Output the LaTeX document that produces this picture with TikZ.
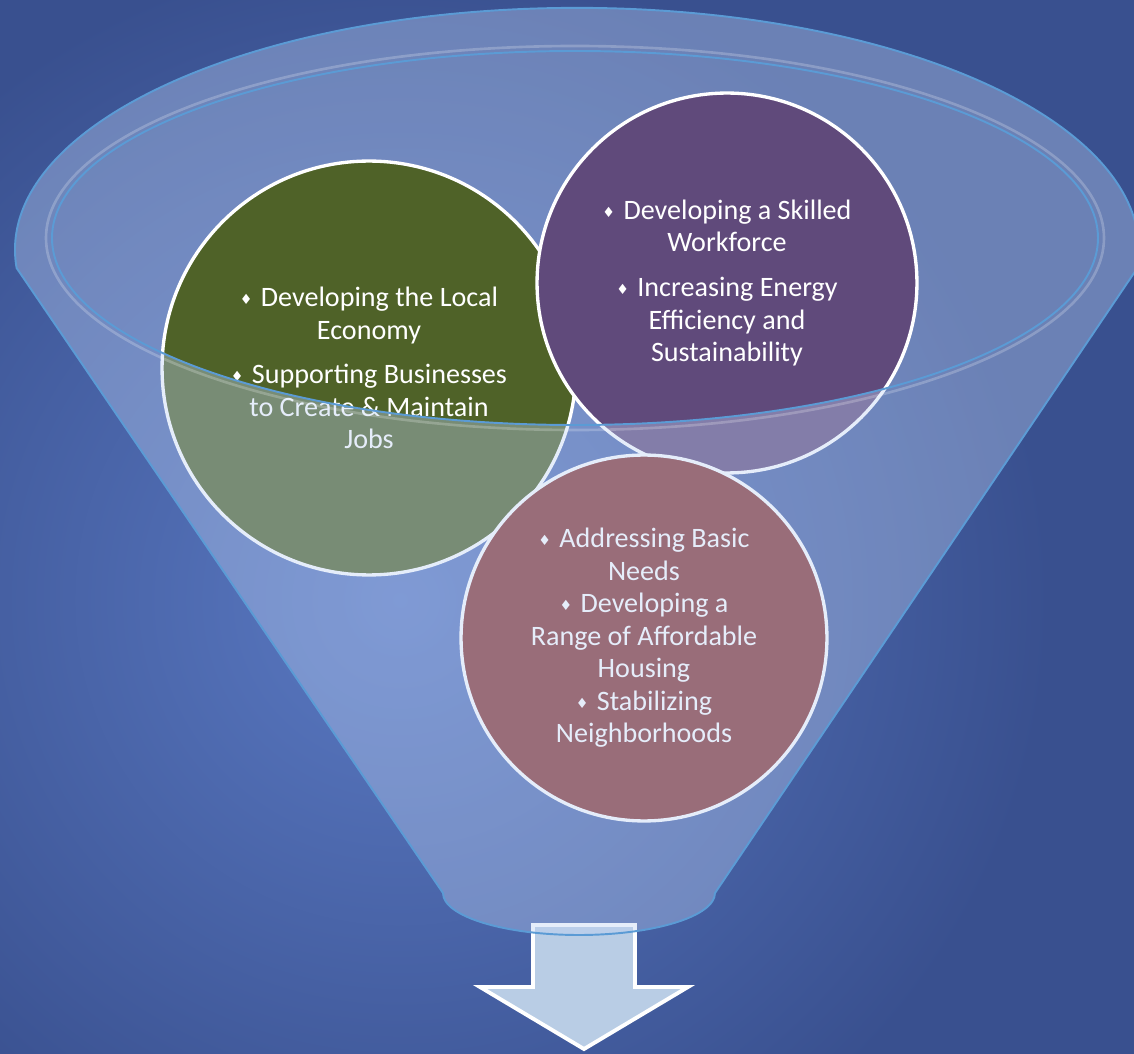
\documentclass[tikz,border=0pt]{standalone}
\usepackage{fontspec}
\setmainfont{Carlito}
\newfontfamily\symfont{DejaVu Sans}
\usepackage{xcolor}

\definecolor{bgdark}{HTML}{39508F}
\definecolor{bglight}{HTML}{5A79C2}
\definecolor{funnelc}{HTML}{BDD1F4}
\definecolor{edgec}{HTML}{5B9BD5}
\definecolor{econc}{HTML}{4F6228}
\definecolor{workc}{HTML}{604A7B}
\definecolor{homec}{HTML}{83302F}
\definecolor{arrowc}{HTML}{B9CDE5}

\newcommand{\bul}{{\symfont\fontsize{8}{8}\selectfont\raisebox{0.3ex}{♦}}\hspace{0.3em}}

\begin{document}
\begin{tikzpicture}[
    x=0.02cm, y=-0.02cm,
    goal/.style = {circle, draw=white, line width=1.9pt, inner sep=0pt,
                  align=center, text=white, font=\fontsize{16}{18.5}\selectfont},
    veil/.style = {fill=funnelc, fill opacity=0.38},
    rim/.style  = {draw=edgec, line width=1.1pt}
]
\useasboundingbox (0,0) rectangle (1134,1054);

% Background
\begin{scope}
\clip (0,0) rectangle (1134,1054);
\fill[bgdark] (0,0) rectangle (1134,1054);
\shade[inner color=bglight, outer color=bgdark] (-250,-50) rectangle (1050,1250);
\end{scope}

% Mouth of the funnel
\fill[veil] (575,238) ellipse[x radius=523, y radius=187];

% Goals
\node[goal, fill=econc, minimum size=8.28cm] (econ) at (369,368)
    {\bul Developing the Local\\ Economy\\[7pt]
     \bul Supporting Businesses\\ to Create \& Maintain\\ Jobs};
\node[goal, fill=workc, minimum size=7.6cm] (work) at (727,283)
    {\bul Developing a Skilled\\ Workforce\\[7pt]
     \bul Increasing Energy\\ Efficiency and\\ Sustainability};
\node[goal, fill=homec, minimum size=7.32cm] (home) at (644,638)
    {\bul Addressing Basic\\ Needs\\ \bul Developing a\\ Range of Affordable\\
     Housing\\ \bul Stabilizing\\ Neighborhoods};

% Arrow out of the funnel
\draw[white, line width=2.2pt, fill=arrowc] (533,925) -- (635,925) -- (635,987)
    -- (688,987) -- (584,1049) -- (480,987) -- (533,987) -- cycle;

% Funnel body
\path[veil, rim, even odd rule]
    (16.6,268) arc[start angle=175.7, end angle=364.3, x radius=562, y radius=242]
    -- (715,893) arc[start angle=0, end angle=180, x radius=136, y radius=42] -- cycle
    (575,238) ellipse[x radius=523, y radius=187];
\draw[white, draw opacity=0.22, line width=1.5pt] (575,238) ellipse[x radius=529, y radius=192];

\end{tikzpicture}
\end{document}
